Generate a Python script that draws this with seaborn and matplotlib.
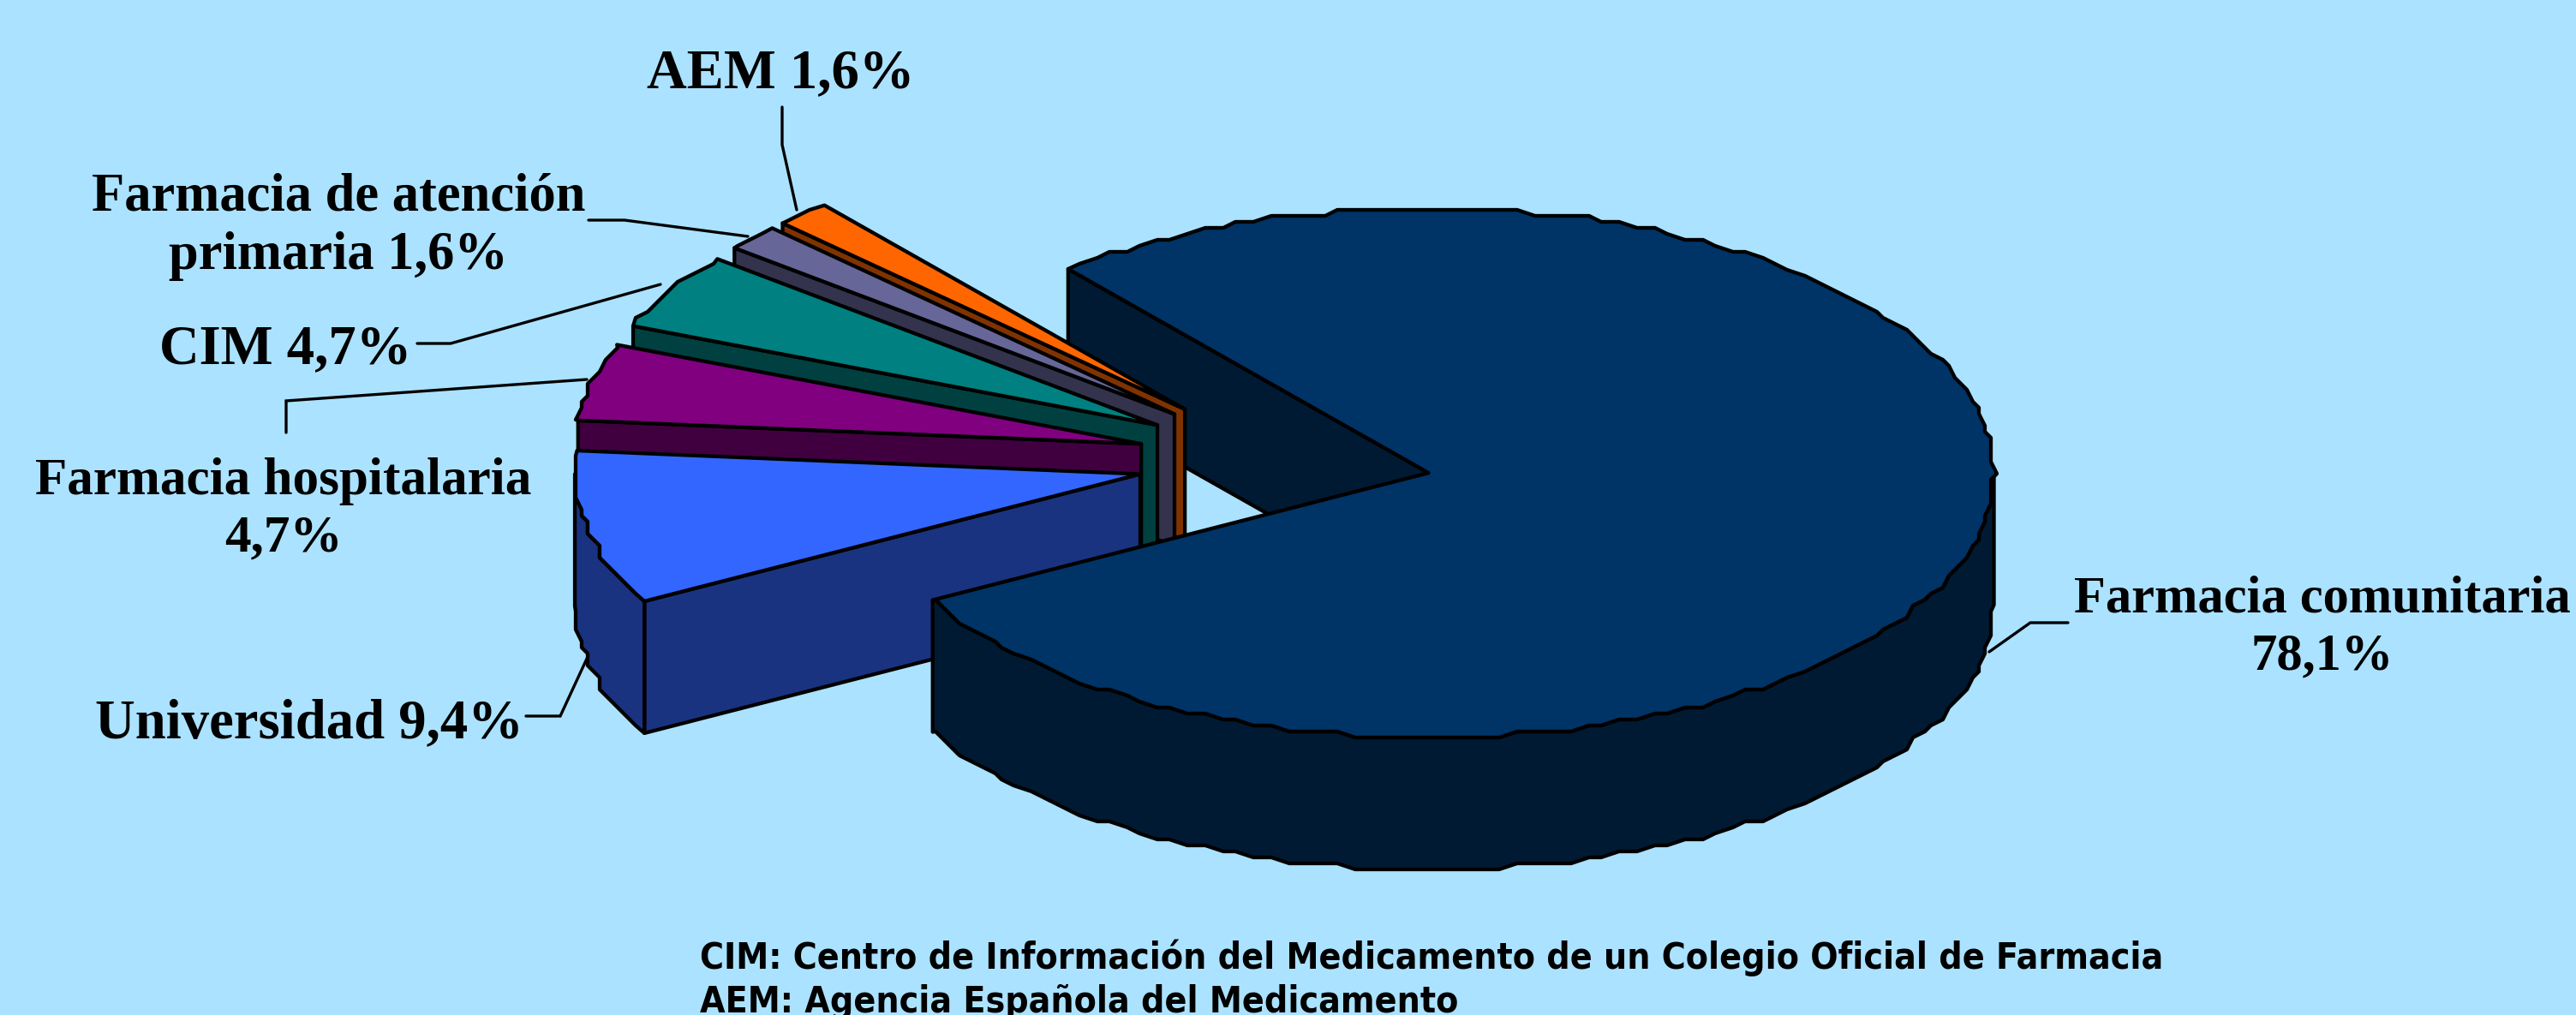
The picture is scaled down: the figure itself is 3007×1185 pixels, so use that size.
import numpy as np
import seaborn as sns
import matplotlib.pyplot as plt

# datos
sectores = ['Farmacia comunitaria', 'Universidad', 'Farmacia hospitalaria', 'CIM',
            'Farmacia de atención primaria', 'AEM']
valores = [78.1, 9.4, 4.7, 4.7, 1.6, 1.6]
colores = ['#003366', '#3366FF', '#800080', '#008080', '#666699', '#FF6600']

etiquetas = ['Farmacia comunitaria\n78,1%', 'Universidad 9,4%', 'Farmacia hospitalaria\n4,7%',
             'CIM 4,7%', 'Farmacia de atención\nprimaria 1,6%', 'AEM 1,6%']
notas = ['CIM: Centro de Información del Medicamento de un Colegio Oficial de Farmacia',
         'AEM: Agencia Española del Medicamento']

# geometria de la tarta en pixeles
W, H = 3007, 1185
CX, CY = 1499, 537
RX, RY = 660, 309
FONDO = 154
EXPLOSION = 0.26
INICIO = 129.6
FONDO_COLOR = '#ABE2FF'
REJILLA = 7
PASO = 1.8

pos_etiquetas = [(2711, 733), (361, 845), (331, 595), (333, 408), (395, 265), (911, 86)]
tam_etiquetas = [43.6, 46.5, 44, 46.5, 45, 46.5]
guias = [[(2414, 727), (2370, 727), (2322, 761)],
         [(614, 836), (654, 836), (685, 769)],
         [(334, 505), (334, 468), (685, 443)],
         [(487, 401), (526, 401), (771, 332)],
         [(687, 257), (729, 257), (873, 276)],
         [(913, 125), (913, 169), (930, 245)]]

sns.set_theme(style='white', rc={'figure.facecolor': FONDO_COLOR, 'axes.facecolor': FONDO_COLOR})
paleta = sns.color_palette(colores)
oscuros = [tuple(c / 2 for c in col) for col in paleta]

fig, ax = plt.subplots(figsize=(W / 100, H / 100), dpi=100)
fig.subplots_adjust(0, 0, 1, 1)
ax.set_xlim(0, W)
ax.set_ylim(H, 0)
ax.axis('off')


def borde(x0, y0, t0, t1):
    # arco del sector, algo escalonado como en el original
    pasos = np.arange(np.ceil(t0 / PASO + 0.01), np.floor(t1 / PASO - 0.01) + 1) * PASO
    t = np.radians(np.r_[t0, pasos, t1])
    x = x0 + RX * np.cos(t)
    y = y0 - RY * np.sin(t)
    x[1:-1] = np.round(x[1:-1] / REJILLA) * REJILLA
    y[1:-1] = np.round(y[1:-1] / REJILLA) * REJILLA
    return x, y


def cara(xs, ys, color, z=1):
    ax.fill(xs, ys, facecolor=color, edgecolor='black', linewidth=3.1, joinstyle='round', zorder=z)


# angulos de cada sector, en sentido horario desde INICIO
fracciones = np.array(valores) / sum(valores) * 360
fin = INICIO - np.cumsum(fracciones)
ini = fin + fracciones
medio = (ini + fin) / 2
apex_x = CX + EXPLOSION * RX * np.cos(np.radians(medio))
apex_y = CY - EXPLOSION * RY * np.sin(np.radians(medio))

# cara cortada trasera del sector grande
x0, y0 = apex_x[0], apex_y[0]
xb, yb = x0 + RX * np.cos(np.radians(INICIO)), y0 - RY * np.sin(np.radians(INICIO))
cara([xb, x0, x0, xb], [yb, y0, y0 + FONDO, yb + FONDO], oscuros[0], 1)

# sectores separados, de atras hacia delante
for i in range(len(valores) - 1, 0, -1):
    x0, y0 = apex_x[i], apex_y[i]
    t_ini, t_fin = ini[i] + 360, fin[i] + 360
    # cara cortada inferior
    xc, yc = x0 + RX * np.cos(np.radians(t_ini)), y0 - RY * np.sin(np.radians(t_ini))
    cara([xc, x0, x0, xc], [yc, y0, y0 + FONDO, yc + FONDO], oscuros[i], 2 + (6 - i) * 2)
    # lateral curvo visible
    if t_ini > 180:
        xr, yr = borde(x0, y0, 180, t_ini)
        cara(np.r_[xr, xr[::-1]], np.r_[yr, yr[::-1] + FONDO], oscuros[i], 2 + (6 - i) * 2)
    xr, yr = borde(x0, y0, t_fin, t_ini)
    cara(np.r_[x0, xr], np.r_[y0, yr], paleta[i], 3 + (6 - i) * 2)

# sector grande: lateral frontal y tapa
x0, y0 = apex_x[0], apex_y[0]
xr, yr = borde(x0, y0, fin[0] + 360, 360)
cara(np.r_[xr, xr[::-1]], np.r_[yr, yr[::-1] + FONDO], oscuros[0], 20)
xr, yr = borde(x0, y0, fin[0], ini[0])
cara(np.r_[x0, xr], np.r_[y0, yr], paleta[0], 21)

# guias y etiquetas
for guia in guias:
    px, py = zip(*guia)
    ax.plot(px, py, color='black', lw=2.4, zorder=25, solid_joinstyle='miter')

for txt, (px, py), tam in zip(etiquetas, pos_etiquetas, tam_etiquetas):
    ax.text(px, py, txt, family=['Liberation Serif'], weight='bold', fontsize=tam, color='black',
            ha='center', va='center', linespacing=1.25, zorder=30)

ax.text(817, 1118, notas[0], family=['DejaVu Sans'], stretch='condensed', weight='bold',
        fontsize=30.6, color='black', ha='left', va='center', zorder=30)
ax.text(817, 1170, notas[1], family=['DejaVu Sans'], stretch='condensed', weight='bold',
        fontsize=30.6, color='black', ha='left', va='center', zorder=30)

fig.savefig('out.png', dpi=100, facecolor=FONDO_COLOR)
